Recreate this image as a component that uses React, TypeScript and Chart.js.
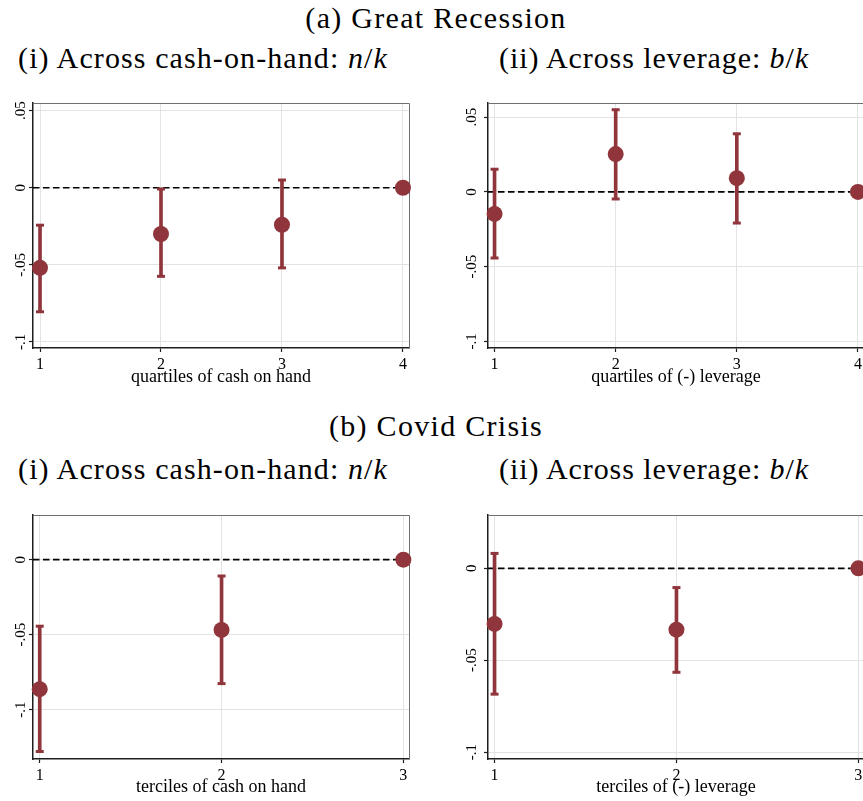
import React, { useEffect, useRef } from 'react';
import { Chart, registerables } from 'chart.js';

Chart.register(...registerables);

const RED = '#90353B';
const GRID = '#E3E3E3';
const AXIS = '#1E1E1E';
const FRAME = '#707070';
const SERIF = '"Liberation Serif", "Times New Roman", serif';

// ---------- data ----------
const quartiles = [1, 2, 3, 4];
const terciles = [1, 2, 3];

// y-axis tick values (labels formatted Stata-style: .05, 0, -.05, -.1)
const yTickValues = [-0.1, -0.05, 0, 0.05];

// (a) Great Recession, (i) cash on hand
const grCashCoef = [-0.052, -0.030, -0.024, 0];
const grCashLo = [-0.0805, -0.0575, -0.052, null];
const grCashHi = [-0.0243, -0.0008, 0.005, null];

// (a) Great Recession, (ii) leverage
const grLevCoef = [-0.0147, 0.0253, 0.0092, 0];
const grLevLo = [-0.0442, -0.0047, -0.0208, null];
const grLevHi = [0.0152, 0.055, 0.0389, null];

// (b) Covid, (i) cash on hand
const cvCashCoef = [-0.0864, -0.0469, 0];
const cvCashLo = [-0.128, -0.0827, null];
const cvCashHi = [-0.0444, -0.0109, null];

// (b) Covid, (ii) leverage
const cvLevCoef = [-0.0303, -0.0334, 0];
const cvLevLo = [-0.0685, -0.0566, null];
const cvLevHi = [0.0081, -0.0105, null];

const fmtY = (v: number) => {
  const r = Math.round(v * 100) / 100;
  if (r === 0) return '0';
  return String(r).replace('0.', '.');
};

type Spec = {
  left: number; top: number; W: number; H: number;
  area: { left: number; top: number; right: number; bottom: number };
  cats: number[]; coef: number[]; lo: (number | null)[]; hi: (number | null)[];
  xMin: number; xMax: number; yMin: number; yMax: number;
  xTitle: string; yPad: number;
};

const specs: Spec[] = [
  {
    left: 0, top: 90, W: 430, H: 298,
    area: { left: 33, top: 13, right: 409, bottom: 258 },
    cats: quartiles, coef: grCashCoef, lo: grCashLo, hi: grCashHi,
    xMin: 0.942, xMax: 4.05, yMin: -0.104, yMax: 0.055,
    xTitle: 'quartiles of cash on hand', yPad: -4,
  },
  {
    left: 430, top: 90, W: 450, H: 298,
    area: { left: 58, top: 13, right: 434, bottom: 258 },
    cats: quartiles, coef: grLevCoef, lo: grLevLo, hi: grLevHi,
    xMin: 0.946, xMax: 4.05, yMin: -0.1044, yMax: 0.0595,
    xTitle: 'quartiles of (-) leverage', yPad: 0,
  },
  {
    left: 0, top: 500, W: 430, H: 298,
    area: { left: 33, top: 15, right: 409, bottom: 259 },
    cats: terciles, coef: cvCashCoef, lo: cvCashLo, hi: cvCashHi,
    xMin: 0.963, xMax: 3.031, yMin: -0.133, yMax: 0.0298,
    xTitle: 'terciles of cash on hand', yPad: -4,
  },
  {
    left: 430, top: 500, W: 450, H: 298,
    area: { left: 58, top: 15, right: 434, bottom: 259 },
    cats: terciles, coef: cvLevCoef, lo: cvLevLo, hi: cvLevHi,
    xMin: 0.964, xMax: 3.031, yMin: -0.1038, yMax: 0.029,
    xTitle: 'terciles of (-) leverage', yPad: 0,
  },
];

function Panel({ spec }: { spec: Spec }) {
  const ref = useRef<HTMLCanvasElement>(null);
  useEffect(() => {
    const canvas = ref.current!;
    const { W, H, area, cats, coef, lo, hi } = spec;
    const pts = cats.map((c, i) => ({ x: c, y: coef[i] }));
    const bars = cats.flatMap((c, i) => (lo[i] == null ? [] : [{ x: c, y: [lo[i], hi[i]] }]));
    const caps = cats.flatMap((c, i) =>
      lo[i] == null ? [] : [{ x: c, y: lo[i] }, { x: c, y: hi[i] }]
    );

    const framePlugin = {
      id: 'frameAndZero',
      beforeDatasetsDraw(chart: any) {
        const { ctx, chartArea: a, scales } = chart;
        ctx.save();
        ctx.strokeStyle = FRAME;
        ctx.lineWidth = 1;
        ctx.beginPath();
        ctx.moveTo(a.left, a.top + 0.5);
        ctx.lineTo(a.right + 0.5, a.top + 0.5);
        ctx.lineTo(a.right + 0.5, a.bottom);
        ctx.stroke();
        const y0 = scales.y.getPixelForValue(0);
        ctx.strokeStyle = '#000';
        ctx.lineWidth = 1.7;
        ctx.setLineDash([6.5, 3.5]);
        ctx.beginPath();
        ctx.moveTo(a.left, y0);
        ctx.lineTo(a.right, y0);
        ctx.stroke();
        ctx.restore();
      },
    };

    const gridCommon = {
      color: GRID,
      lineWidth: 1,
      drawTicks: true,
      tickLength: 4,
      tickColor: AXIS,
      tickWidth: 1.2,
      offset: false,
    };

    const chart = new Chart(canvas, {
      type: 'scatter',
      data: {
        datasets: [
          {
            type: 'scatter',
            data: pts,
            pointRadius: 8,
            pointHoverRadius: 8,
            backgroundColor: RED,
            borderColor: RED,
            borderWidth: 0,
            clip: false,
            order: 0,
          } as any,
          {
            type: 'scatter',
            data: caps,
            pointStyle: 'line',
            pointRadius: 4,
            pointHoverRadius: 4,
            borderColor: RED,
            backgroundColor: RED,
            borderWidth: 3,
            order: 1,
          } as any,
          {
            type: 'bar',
            data: bars,
            backgroundColor: RED,
            borderWidth: 0,
            barThickness: 3,
            order: 2,
          } as any,
        ],
      },
      options: {
        animation: false,
        responsive: false,
        maintainAspectRatio: false,
        events: [],
        plugins: {
          legend: { display: false },
          tooltip: { enabled: false },
          colors: { enabled: false },
        } as any,
        layout: { padding: { left: 0, top: area.top, right: W - area.right, bottom: 0 } },
        scales: {
          x: {
            type: 'linear',
            position: 'bottom',
            min: spec.xMin,
            max: spec.xMax,
            bounds: 'data',
            offset: false,
            afterBuildTicks: (s: any) => {
              s.ticks = cats.map((v) => ({ value: v }));
            },
            afterFit: (s: any) => { s.height = H - area.bottom; },
            ticks: {
              maxRotation: 0,
              autoSkip: false,
              padding: 3,
              color: '#000',
              font: { family: SERIF, size: 16 },
              callback: (v: any) => String(v),
            },
            grid: gridCommon,
            border: { display: true, color: AXIS, width: 1.5 },
            title: {
              display: true,
              text: spec.xTitle,
              color: '#000',
              font: { family: SERIF, size: 18 },
              padding: 0,
            },
          },
          y: {
            type: 'linear',
            min: spec.yMin,
            max: spec.yMax,
            bounds: 'data',
            afterBuildTicks: (s: any) => {
              s.ticks = yTickValues
                .filter((v) => v >= spec.yMin && v <= spec.yMax)
                .map((v) => ({ value: v }));
            },
            afterFit: (s: any) => { s.width = area.left; },
            ticks: {
              minRotation: 90,
              maxRotation: 90,
              crossAlign: 'center',
              padding: spec.yPad,
              autoSkip: false,
              color: '#000',
              font: { family: SERIF, size: 15 },
              callback: (v: any) => fmtY(Number(v)),
            },
            grid: gridCommon,
            border: { display: true, color: AXIS, width: 1.5 },
          },
        },
      } as any,
      plugins: [framePlugin],
    });
    return () => chart.destroy();
  }, [spec]);
  return (
    <canvas
      ref={ref}
      width={spec.W}
      height={spec.H}
      style={{ position: 'absolute', left: spec.left, top: spec.top, width: spec.W, height: spec.H }}
    />
  );
}

const TITLE_FS = 30;
function Title({ cx, baseline, spacing, children }: { cx: number; baseline: number; spacing: number; children: any }) {
  return (
    <div
      style={{
        position: 'absolute',
        left: cx,
        top: baseline - 0.8375 * TITLE_FS,
        transform: 'translateX(-50%)',
        whiteSpace: 'nowrap',
        fontFamily: SERIF,
        fontSize: TITLE_FS,
        lineHeight: `${TITLE_FS}px`,
        letterSpacing: `${spacing}px`,
        color: '#000',
      }}
    >
      {children}
    </div>
  );
}

export default function App() {
  return (
    <div
      style={{
        position: 'fixed',
        left: 0,
        top: 0,
        width: 863,
        height: 801,
        overflow: 'hidden',
        background: '#fff',
      }}
    >
      <Title cx={436} baseline={28} spacing={1.3}>(a) Great Recession</Title>
      <Title cx={203} baseline={68} spacing={1.1}>(i) Across cash-on-hand: <i>n</i>/<i>k</i></Title>
      <Title cx={654} baseline={68} spacing={0.9}>(ii) Across leverage: <i>b</i>/<i>k</i></Title>
      <Title cx={436} baseline={436} spacing={1.3}>(b) Covid Crisis</Title>
      <Title cx={203} baseline={479} spacing={1.1}>(i) Across cash-on-hand: <i>n</i>/<i>k</i></Title>
      <Title cx={654} baseline={479} spacing={0.9}>(ii) Across leverage: <i>b</i>/<i>k</i></Title>
      {specs.map((s, i) => (
        <Panel key={i} spec={s} />
      ))}
    </div>
  );
}
